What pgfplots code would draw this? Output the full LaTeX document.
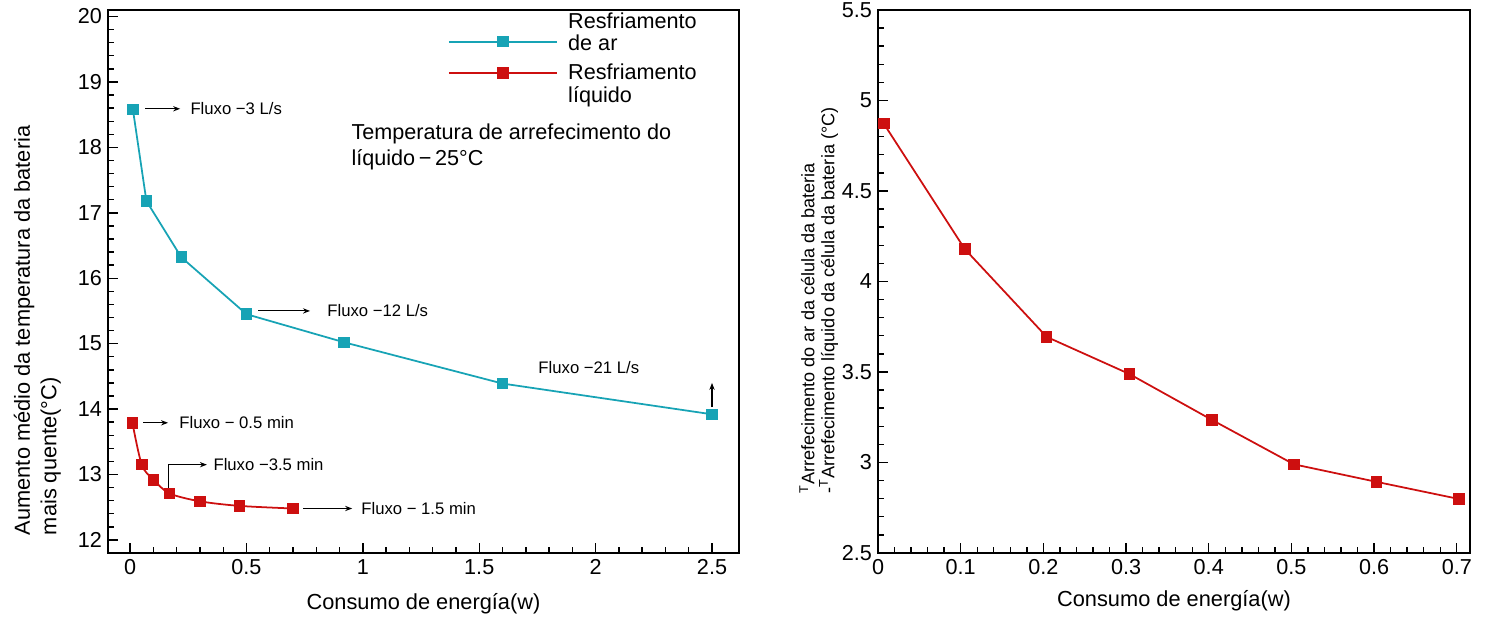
\documentclass[border=0pt]{standalone}
\usepackage{fontspec}
\setmainfont{Liberation Sans}
\usepackage{pgfplots}
\pgfplotsset{compat=1.18}
\usetikzlibrary{arrows.meta}
\definecolor{airc}{RGB}{23,163,181}
\definecolor{liqc}{RGB}{205,15,15}

\pgfplotsset{
  myax/.style={
    scale only axis, height=10.86cm,
    axis line style={line width=0.9pt},
    tick align=inside, tick pos=left,
    major tick length=0.2cm, minor tick length=0.11cm,
    every tick/.style={black, line width=0.8pt},
    /pgf/number format/assume math mode=true,
    tick label style={font=\fontsize{12.3}{14}\selectfont},
    label style={font=\fontsize{12.4}{15}\selectfont},
    minor x tick num=4, minor y tick num=4,
  },
  airs/.style={airc, line width=1pt, mark=square*, mark size=2.8pt, mark options={solid}},
  liqs/.style={liqc, line width=1pt, mark=square*, mark size=2.8pt, mark options={solid}},
  airleg/.style={legend image code/.code={
    \draw[##1, mark=none] (0cm,-0.174cm) -- (2.16cm,-0.174cm);
    \draw[##1] plot coordinates {(1.08cm,-0.174cm)};
    \path (2.3cm,0cm);
  }},
  liqleg/.style={legend image code/.code={
    \draw[##1, mark=none] (0cm,0.226cm) -- (2.16cm,0.226cm);
    \draw[##1] plot coordinates {(1.08cm,0.226cm)};
    \path (2.3cm,0cm);
  }},
}
\tikzset{ann/.style={font=\fontsize{9.5}{11}\selectfont, anchor=west, inner sep=0pt},
  arr/.style={-{Stealth[length=4pt,width=3pt]}, line width=0.6pt}}

\begin{document}
\begin{tikzpicture}
\useasboundingbox (0,0) rectangle (30cm,12.42cm);

\begin{axis}[myax, at={(2.16cm,1.36cm)}, anchor=south west, width=12.62cm,
  xmin=-0.095, xmax=2.616, ymin=11.8, ymax=20.1,
  xtick={0,0.5,1,1.5,2,2.5}, ytick={12,13,14,15,16,17,18,19,20},
  xlabel={Consumo de energía(w)},
  xlabel style={at={(axis description cs:0.5,-0.094)}, anchor=center},
  ylabel={Aumento médio da temperatura da bateria\\mais quente(°C)},
  ylabel style={at={(axis description cs:-0.065,0.41)}, anchor=south, align=left},
  legend cell align=left,
  legend style={at={(axis cs:1.364,20.12)}, anchor=north west, draw=none, fill=none,
    font=\fontsize{12.3}{12.8}\selectfont, cells={align=left}, row sep=2.1pt, inner sep=0pt},
]
\addplot[airs, airleg] coordinates {
(0.012,18.58) (0.07,17.18) (0.22,16.32) (0.5,15.45) (0.92,15.02) (1.6,14.39) (2.5,13.92)
};
\addlegendentry{Resfriamento\\de ar}
\addplot[liqs, smooth, liqleg] coordinates {
(0.01,13.79) (0.05,13.15) (0.10,12.92) (0.17,12.71) (0.30,12.59) (0.47,12.52) (0.70,12.48)
};
\addlegendentry{Resfriamento\\líquido}

\draw[arr] (axis cs:0.064,18.59) -- (axis cs:0.215,18.59);
\node[ann] at (axis cs:0.258,18.59) {Fluxo −3 L/s};
\draw[arr] (axis cs:0.55,15.5) -- (axis cs:0.773,15.5);
\node[ann] at (axis cs:0.846,15.5) {Fluxo −12 L/s};
\node[ann] at (axis cs:1.753,14.63) {Fluxo −21 L/s};
\draw[arr] (axis cs:2.5,14.03) -- (axis cs:2.5,14.4);
\draw[arr] (axis cs:0.056,13.79) -- (axis cs:0.163,13.79);
\node[ann] at (axis cs:0.21,13.79) {Fluxo − 0.5 min};
\draw[arr] (axis cs:0.165,12.78) -- (axis cs:0.165,13.15) -- (axis cs:0.33,13.15);
\node[ann] at (axis cs:0.357,13.15) {Fluxo −3.5 min};
\draw[arr] (axis cs:0.743,12.48) -- (axis cs:0.954,12.48);
\node[ann] at (axis cs:0.992,12.48) {Fluxo − 1.5 min};

\node[anchor=north west, align=left, inner sep=0pt, font=\fontsize{12.3}{15}\selectfont]
  at (axis cs:0.95,18.37) {Temperatura de arrefecimento do\\líquido\,−\,25°C};
\end{axis}

\begin{axis}[myax, at={(17.56cm,1.36cm)}, anchor=south west, width=11.84cm,
  xmin=0, xmax=0.716, ymin=2.5, ymax=5.5,
  xtick={0,0.1,0.2,0.3,0.4,0.5,0.6,0.7}, ytick={2.5,3,3.5,4,4.5,5,5.5},
  xlabel={Consumo de energía(w)},
  xlabel style={at={(axis description cs:0.5,-0.087)}, anchor=center},
  ylabel={\textsuperscript{T}Arrefecimento do ar da célula da bateria\\-\textsuperscript{T}Arrefecimento líquido da célula da bateria (°C)},
  ylabel style={at={(axis description cs:-0.057,0.465)}, anchor=south, align=left,
    font=\fontsize{10.3}{11.3}\selectfont},
]
\addplot[liqs] coordinates {
(0.007,4.872) (0.105,4.179) (0.204,3.694) (0.304,3.489) (0.404,3.235) (0.503,2.99) (0.603,2.893) (0.703,2.798)
};
\end{axis}
\end{tikzpicture}
\end{document}
